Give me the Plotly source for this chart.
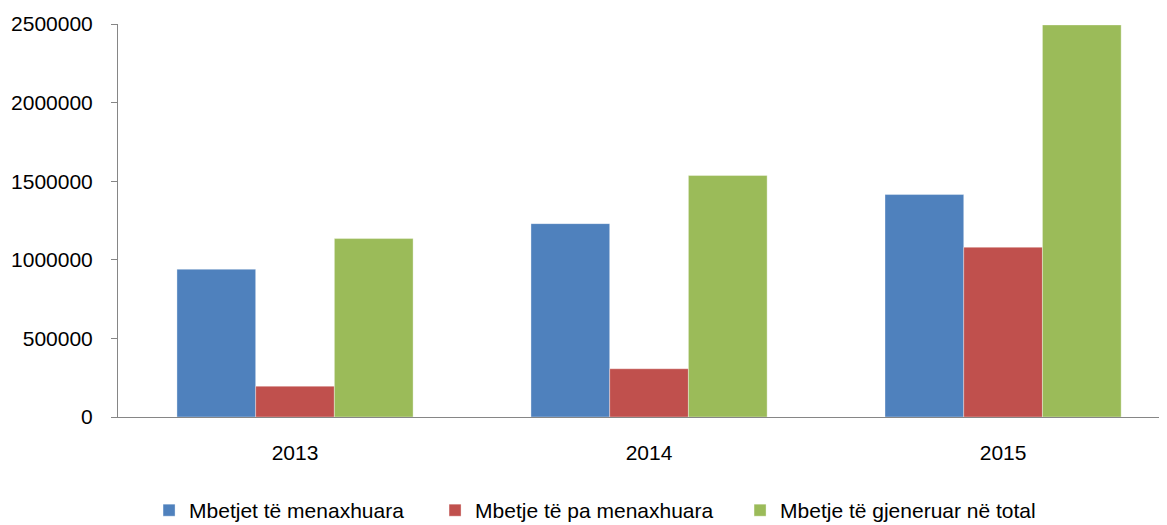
import plotly.graph_objects as go

years = ['2013', '2014', '2015']
menaxhuara = [940000, 1230000, 1415000]
pa_menaxhuara = [196000, 307000, 1080000]
gjeneruar = [1135000, 1536000, 2494000]

series = [
    ('Mbetjet të menaxhuara', menaxhuara, '#4F81BD', 241),
    ('Mbetje të pa menaxhuara', pa_menaxhuara, '#C0504D', 260),
    ('Mbetje të gjeneruar në total', gjeneruar, '#9BBB59', 283),
]

fig = go.Figure()
for name, vals, col, lw in series:
    fig.add_trace(go.Bar(
        x=years, y=vals, name=name, legendwidth=lw,
        marker=dict(color=col, line=dict(color='rgba(255,255,255,0.35)', width=1)),
    ))

font = dict(family='Liberation Sans, Arial, sans-serif', size=21, color='#000000')

# the page body adds an 8px offset, so the figure is drawn 8px smaller
fig.update_layout(
    width=1159, height=517,
    margin=dict(l=110, r=0, t=16, b=108, autoexpand=False),
    paper_bgcolor='white', plot_bgcolor='white',
    barmode='group', bargap=0.333, bargroupgap=0,
    font=font,
    showlegend=True,
    legend=dict(
        orientation='h', x=0.0296, xanchor='left', y=-0.238, yanchor='middle',
        font=font, itemwidth=30, traceorder='normal',
    ),
)

fig.update_xaxes(
    type='category', range=[-0.5, 2.463], automargin=False,
    showline=True, linecolor='#868686', linewidth=1,
    ticks='', showgrid=False, tickfont=font,
    ticklabelstandoff=17,
)
fig.update_yaxes(
    range=[0, 2500000], dtick=500000, tickformat='d', automargin=False,
    showline=True, linecolor='#868686', linewidth=1,
    ticks='outside', ticklen=6, tickcolor='#868686',
    showgrid=False, zeroline=False, tickfont=font,
    ticklabelstandoff=14,
)

fig.write_html('out.html')
